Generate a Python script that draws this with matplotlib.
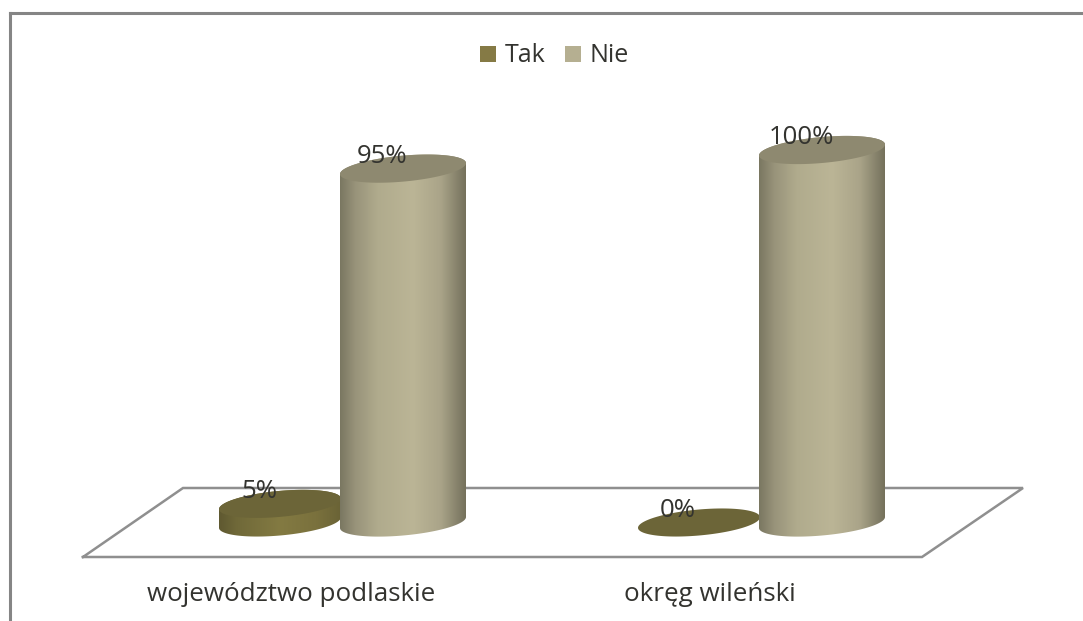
import numpy as np
import matplotlib
matplotlib.use("Agg")
import matplotlib.pyplot as plt
from matplotlib.colors import LinearSegmentedColormap
from matplotlib.lines import Line2D
from matplotlib.patches import Patch, Polygon

categories = ["województwo podlaskie", "okręg wileński"]
series_names = ["Tak", "Nie"]
tak_values = [5, 0]
nie_values = [95, 100]

W, H = 1083, 621
plt.rcParams["font.family"] = ["Open Sans", "DejaVu Sans"]
TEXT = "#33332f"

fig = plt.figure(figsize=(W / 100, H / 100), dpi=100, facecolor="white")

# axes: 0-100 % spans the height of the tallest cylinder
L, R, T, B = 83, 1023, 150, 522.5
ax = fig.add_axes([L / W, 1 - B / H, (R - L) / W, (B - T) / H])
ax.patch.set_alpha(0)
x0_px, unit_px = 291.0, 419.0
ax.set_xlim((L - x0_px) / unit_px, (R - x0_px) / unit_px)
ax.set_ylim(0, 100)
for s in ax.spines.values():
    s.set_visible(False)
ax.set_yticks([])
ax.set_xticks(range(len(categories)))
ax.set_xticklabels(categories, fontsize=18.7, color=TEXT)
ax.tick_params(axis="x", length=0, pad=42.5)

px_x = 1 / unit_px
px_y = 100 / (B - T)


def px(xp, yp):
    return (xp - x0_px) / unit_px, (B - yp) * px_y


# frame around the picture
for xs, ys in [((10, W), (13, 13)), ((10, 10), (13, H))]:
    fig.add_artist(Line2D(np.array(xs) / W, 1 - np.array(ys) / H, color="#858585", lw=2.2))

# floor
floor = np.array([px(*p) for p in [(83, 557), (922, 557), (1023, 488), (183, 488), (83, 557)]])
ax.plot(floor[:, 0], floor[:, 1], color="#8f8f8f", lw=1.8, clip_on=False, zorder=1, solid_joinstyle="miter")

styles = {
    "Tak": dict(offset=-11, a=61,
                stops=[(0, "#5f5931"), (0.15, "#706939"), (0.5, "#837a42"), (0.8, "#7a713d"), (1, "#6a6336")],
                top="#6c6538", legend="#857a45"),
    "Nie": dict(offset=112, a=63,
                stops=[(0, "#7a7761"), (0.12, "#98937a"), (0.3, "#b0ab8d"), (0.58, "#bbb596"), (0.8, "#aaa489"), (0.93, "#87836c"), (1, "#75715b")],
                top="#8e8970", legend="#b5af91"),
}
B_MINOR, TILT = 13.0, 0.087


def ellipse(cx, value, a, t):
    x = cx + a * px_x * np.cos(t)
    y = value + (B_MINOR * np.sin(t) + TILT * a * np.cos(t)) * px_y
    return np.column_stack([x, y])


def draw_cylinders(name, values, z):
    st = styles[name]
    cmap = LinearSegmentedColormap.from_list(name, st["stops"])
    for i, v in enumerate(values):
        cx = i + st["offset"] * px_x
        if v > 0:
            low = ellipse(cx, 0, st["a"], np.linspace(np.pi, 2 * np.pi, 80))
            up = ellipse(cx, v, st["a"], np.linspace(0, np.pi, 80))
            body = Polygon(np.vstack([low, up]), closed=True, transform=ax.transData,
                           fc="none", ec="none")
            ax.add_patch(body)
            body.set_clip_on(False)
            im = ax.imshow(np.linspace(0, 1, 256)[None, :], cmap=cmap, aspect="auto",
                           extent=[cx - st["a"] * px_x, cx + st["a"] * px_x,
                                   -30, v + 30],
                           zorder=z, interpolation="bilinear")
            im.set_clip_path(body)
            im.set_clip_box(fig.bbox)
        top = Polygon(ellipse(cx, v, st["a"], np.linspace(0, 2 * np.pi, 160)), closed=True,
                      fc=st["top"], ec="none", zorder=z + 0.5, clip_on=False)
        ax.add_patch(top)
        ax.annotate(f"{v}%", xy=(cx, v), xytext=(-21 * 0.72, 12 * 0.72),
                    textcoords="offset points", ha="center", va="center",
                    fontsize=18.5, color=TEXT, zorder=10, annotation_clip=False)


draw_cylinders("Tak", tak_values, 3)
draw_cylinders("Nie", nie_values, 5)
ax.set_xlim((L - x0_px) / unit_px, (R - x0_px) / unit_px)
ax.set_ylim(0, 100)

handles = [Patch(fc=styles[n]["legend"], ec="none") for n in series_names]
leg = fig.legend(handles, series_names, loc="center", bbox_to_anchor=(554.5 / W, 1 - 56 / H),
                 ncol=2, frameon=False, fontsize=18, labelcolor=TEXT,
                 handlelength=0.62, handleheight=0.62, handletextpad=0.35, columnspacing=0.8)

fig.savefig("out.png", dpi=100, facecolor="white")
